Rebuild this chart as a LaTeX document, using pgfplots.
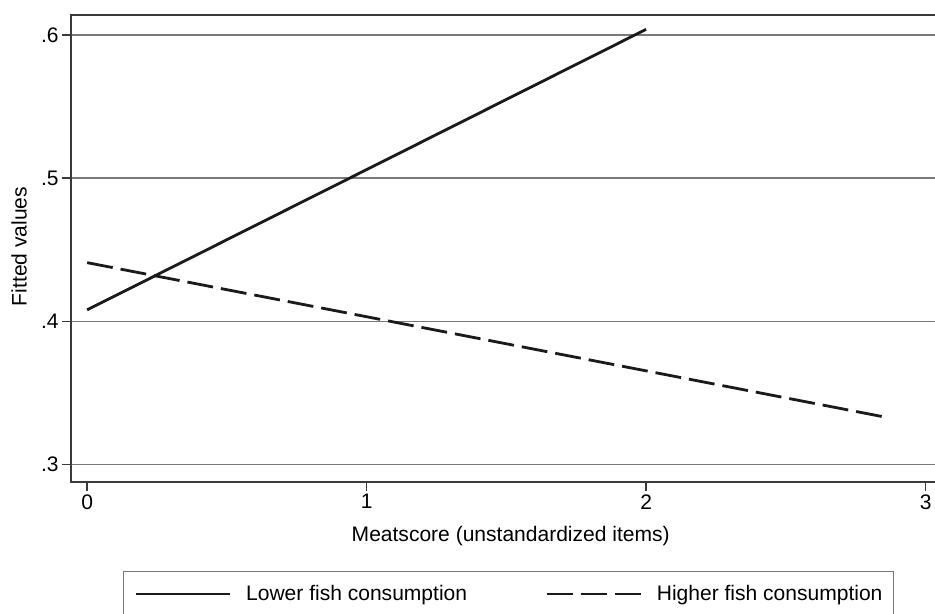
\documentclass[border=0pt]{standalone}
\usepackage{pgfplots}
\pgfplotsset{compat=1.18}
\usepackage{fontspec}
\setmainfont{Liberation Sans}
\definecolor{axgray}{HTML}{3A3A3A}
\definecolor{gridgray}{HTML}{7A7A7A}
\definecolor{linecol}{HTML}{1A1A1A}
\begin{document}
\begin{tikzpicture}
\begin{axis}[
  at={(0,0)}, anchor=south west,
  scale only axis, width=864pt, height=466pt,
  xmin=-0.0573, xmax=3.039, ymin=0.2879, ymax=0.614,
  font=\fontsize{21}{25}\selectfont,
  ticklabel style={font=\fontsize{21}{25}\selectfont},
  label style={font=\fontsize{21}{25}\selectfont},
  axis line style={draw=axgray, line width=1.8pt},
  xtick={0,1,2,3}, xticklabels={0,1,2,3},
  ytick={0.3,0.4,0.5,0.6}, yticklabels={.3,.4,.5,.6},
  tick align=outside, major tick length=9pt,
  tick style={draw=axgray, line width=1.5pt},
  xtick pos=bottom, ytick pos=left,
  ymajorgrids, grid style={draw=gridgray, line width=1.4pt},
  xlabel={Meatscore (unstandardized items)},
  ylabel={Fitted values},
  xlabel style={at={(axis description cs:0.508,-0.1159)}, anchor=center},
  ylabel style={at={(axis description cs:-0.0602,0.504)}, anchor=center},
  legend columns=2,
  legend style={at={(axis description cs:0.0598,-0.191)}, anchor=north west,
    draw=gridgray, line width=1.4pt, inner xsep=11pt, inner ysep=10pt,
    font=\fontsize{21}{25}\selectfont,
    /tikz/every even column/.append style={column sep=78pt},
    nodes={inner xsep=0pt, inner ysep=4pt}},
  legend image code/.code={\path[draw=none, fill=none] (0pt,-1pt) rectangle (110pt,1pt);\draw[#1] (0pt,0pt) -- (94pt,0pt);},
]
\addplot[linecol, line width=2.8pt] coordinates {(0,0.408) (2,0.604)};
\addlegendentry{Lower fish consumption}
\addplot[linecol, line width=2.8pt, line cap=butt, dash pattern=on 26pt off 8pt] coordinates {(0,0.441) (2.857,0.333)};
\addlegendentry{Higher fish consumption}
\end{axis}
\pgfresetboundingbox
\path[use as bounding box] (-71pt,-132pt) rectangle (862.5pt,481pt);
\end{tikzpicture}
\end{document}
